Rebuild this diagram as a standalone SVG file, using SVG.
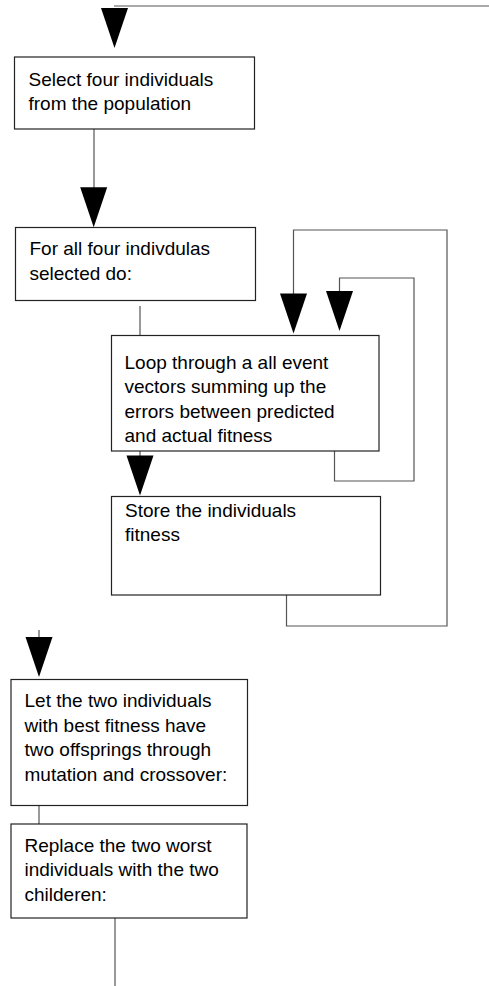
<svg xmlns="http://www.w3.org/2000/svg" xmlns:xlink="http://www.w3.org/1999/xlink" width="489" height="986" viewBox="0 0 489 986">
<style>
.box{fill:#fff;stroke:#222;stroke-width:1.2}
.ln{fill:none;stroke:#555;stroke-width:1.2}
.ah{fill:#000}
text{font-family:"Liberation Sans",Arial,sans-serif;font-size:19px;fill:#000}
</style>
<defs>
<path id="arr" d="M-13.5,-40 L13.5,-40 L0,0 Z"/>
</defs>
<rect width="489" height="986" fill="#fff"/>
<g id="connectors">
<path class="ln" d="M114,6 H489"/>
<path class="ln" d="M94,129 V190"/>
<path class="ln" d="M140,306 V337"/>
<path class="ln" d="M286.5,595 V626 H447 V230 H293.5 V295"/>
<path class="ln" d="M334.5,451 V481 H414 V278 H339.5 V292"/>
<path class="ln" d="M140,451 V457"/>
<path class="ln" d="M39,630 V638"/>
<path class="ln" d="M39,805 V824"/>
<path class="ln" d="M115,918 V986"/>
<use class="ah" xlink:href="#arr" transform="translate(114.5,48)"/>
<use class="ah" xlink:href="#arr" transform="translate(93.7,227.3)"/>
<use class="ah" xlink:href="#arr" transform="translate(293.5,333.5)"/>
<use class="ah" xlink:href="#arr" transform="translate(339.5,331)"/>
<use class="ah" xlink:href="#arr" transform="translate(140,495.5)"/>
<use class="ah" xlink:href="#arr" transform="translate(39,677)"/>
</g>
<g id="n1">
<rect class="box" x="14.5" y="57" width="240" height="72"/>
<text x="28.5" y="85.5">Select four individuals</text>
<text x="28.5" y="110">from the population</text>
</g>
<g id="n2">
<rect class="box" x="15.5" y="227.5" width="240" height="73"/>
<text x="29.5" y="255">For all four indivdulas</text>
<text x="29.5" y="279.5">selected do:</text>
</g>
<g id="n3">
<rect class="box" x="111.5" y="335.5" width="267.5" height="115.5"/>
<text x="124.5" y="368.5">Loop through a all event</text>
<text x="124.5" y="393">vectors summing up the</text>
<text x="124.5" y="417.5">errors between predicted</text>
<text x="124.5" y="442">and actual fitness</text>
</g>
<g id="n4">
<rect class="box" x="111.5" y="496.5" width="269" height="98.5"/>
<text x="125" y="516.5">Store the individuals</text>
<text x="125" y="541">fitness</text>
</g>
<g id="n5">
<rect class="box" x="11" y="679.5" width="236.5" height="126"/>
<text x="24.5" y="707">Let the two individuals</text>
<text x="24.5" y="731.5">with best fitness have</text>
<text x="24.5" y="756">two offsprings through</text>
<text x="24.5" y="780.5">mutation and crossover:</text>
</g>
<g id="n6">
<rect class="box" x="11" y="824" width="236" height="94"/>
<text x="24.5" y="851.5">Replace the two worst</text>
<text x="24.5" y="876">individuals with the two</text>
<text x="24.5" y="900.5">childeren:</text>
</g>
</svg>
